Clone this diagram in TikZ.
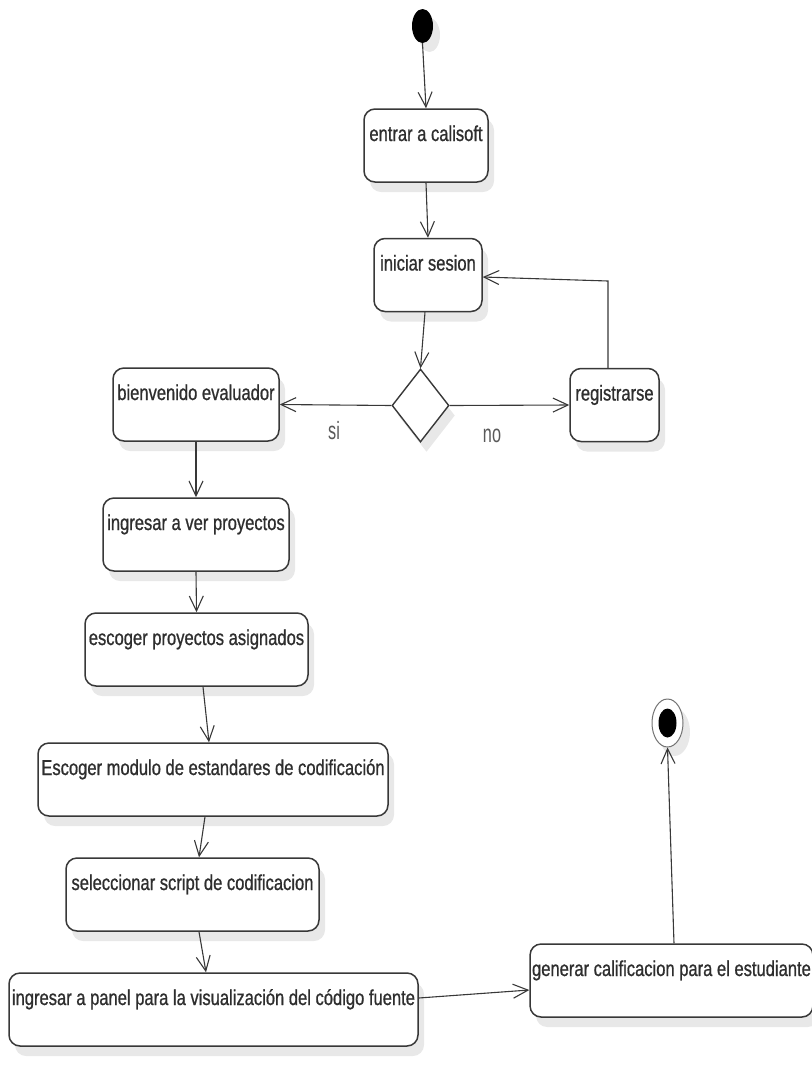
\documentclass[tikz,border=0pt]{standalone}
\usepackage{fontspec}
\usetikzlibrary{arrows.meta,shapes.geometric,shadows}
\newfontfamily\boxfont[FakeStretch=0.77,FakeBold=0.8]{Liberation Sans}
\newfontfamily\guardfont[FakeStretch=0.65]{Liberation Sans}
\definecolor{edgegray}{HTML}{383838}
\definecolor{shadegray}{HTML}{E8E8E8}
\begin{document}
\begin{tikzpicture}[x=1pt,y=-1pt,
  softshadow/.style={drop shadow={shadow xshift=6pt,shadow yshift=-10pt,fill=shadegray,opacity=1}},
  actbox/.style={draw=edgegray,line width=1.5pt,rounded corners=11pt,fill=white,softshadow,
    inner xsep=2pt,inner ysep=0pt,text height=32pt,text depth=41pt,
    font=\boxfont\fontsize{21.5}{24}\selectfont,text=black!82},
  flow/.style={draw=edgegray,line width=1.1pt,-{Straight Barb[length=15pt,width=14pt,line width=1.1pt]}},
  guard/.style={font=\guardfont\fontsize{25}{28}\selectfont,text=black!65,inner sep=0pt},
  decision/.style={diamond,draw=edgegray,line width=1.4pt,fill=white,softshadow,inner sep=0pt}]
\useasboundingbox (0,0) rectangle (812,1080);

% initial and final states
\node[ellipse,fill=black,minimum width=21pt,minimum height=34pt,inner sep=0pt,
  drop shadow={shadow xshift=7pt,shadow yshift=-9pt,fill=shadegray,opacity=1}] (start) at (422.5,26) {};
\node[ellipse,draw=black!55,line width=1pt,fill=white,minimum width=31pt,minimum height=48pt,inner sep=0pt,
  drop shadow={shadow xshift=7pt,shadow yshift=-9pt,fill=shadegray,opacity=1}] (final) at (667.5,723) {};
\node[ellipse,fill=black,minimum width=18pt,minimum height=29pt,inner sep=0pt] (finaldot) at (final.center) {};

% activities
\node[actbox,minimum width=124pt] (entrar) at (426,145.5) {entrar a calisoft};
\node[actbox,minimum width=108pt] (iniciar) at (428,275) {iniciar sesion};
\node[decision,minimum width=57pt,minimum height=73pt] (choice) at (420.5,405.5) {};
\node[actbox,minimum width=89pt] (registro) at (614.5,405) {registrarse};
\node[actbox,minimum width=166pt] (bienvenido) at (196,404.5) {bienvenido evaluador};
\node[actbox,minimum width=186pt] (verproy) at (196,534.5) {ingresar a ver proyectos};
\node[actbox,minimum width=223pt] (asignados) at (196.5,649.5) {escoger proyectos asignados};
\node[actbox,minimum width=350pt] (modulo) at (213,779.5) {Escoger modulo de estandares de codificación};
\node[actbox,minimum width=253pt] (script) at (192.5,894.5) {seleccionar script de codificacion};
\node[actbox,minimum width=409pt] (panel) at (213.5,1009.5) {ingresar a panel para la visualización del código fuente};
\node[actbox,minimum width=279pt] (calif) at (671.5,980.5) {generar calificacion para el estudiante};

% guard labels
\node[guard] (gsi) at (334,431) {si};
\node[guard] (gno) at (492,436) {no};

% transitions
\coordinate (loopcorner) at (608,281);
\draw[flow] (start.south) -- (entrar.north);
\draw[flow] (entrar.south) -- (iniciar.north);
\draw[flow] ([xshift=-3pt]iniciar.south) -- (choice.north);
\draw[flow] (choice.east) -- (registro.west);
\draw[flow] (choice.west) -- (bienvenido.east);
\draw[flow] ([xshift=-6.5pt]registro.north) -- (loopcorner) -- ([yshift=-2pt]iniciar.east);
\draw[flow] (bienvenido.south) -- (verproy.north);
\draw[flow] (verproy.south) -- (asignados.north);
\draw[flow] ([xshift=6.5pt]asignados.south) -- ([xshift=-4pt]modulo.north);
\draw[flow] ([xshift=-8pt]modulo.south) -- ([xshift=6.5pt]script.north);
\draw[flow] ([xshift=6.5pt]script.south) -- ([xshift=-7.5pt]panel.north);
\draw[flow] ([yshift=11.5pt]panel.east) -- ([yshift=-9.5pt]calif.west);
\draw[flow] ([xshift=2.5pt]calif.north) -- (final.south);
\end{tikzpicture}
\end{document}
